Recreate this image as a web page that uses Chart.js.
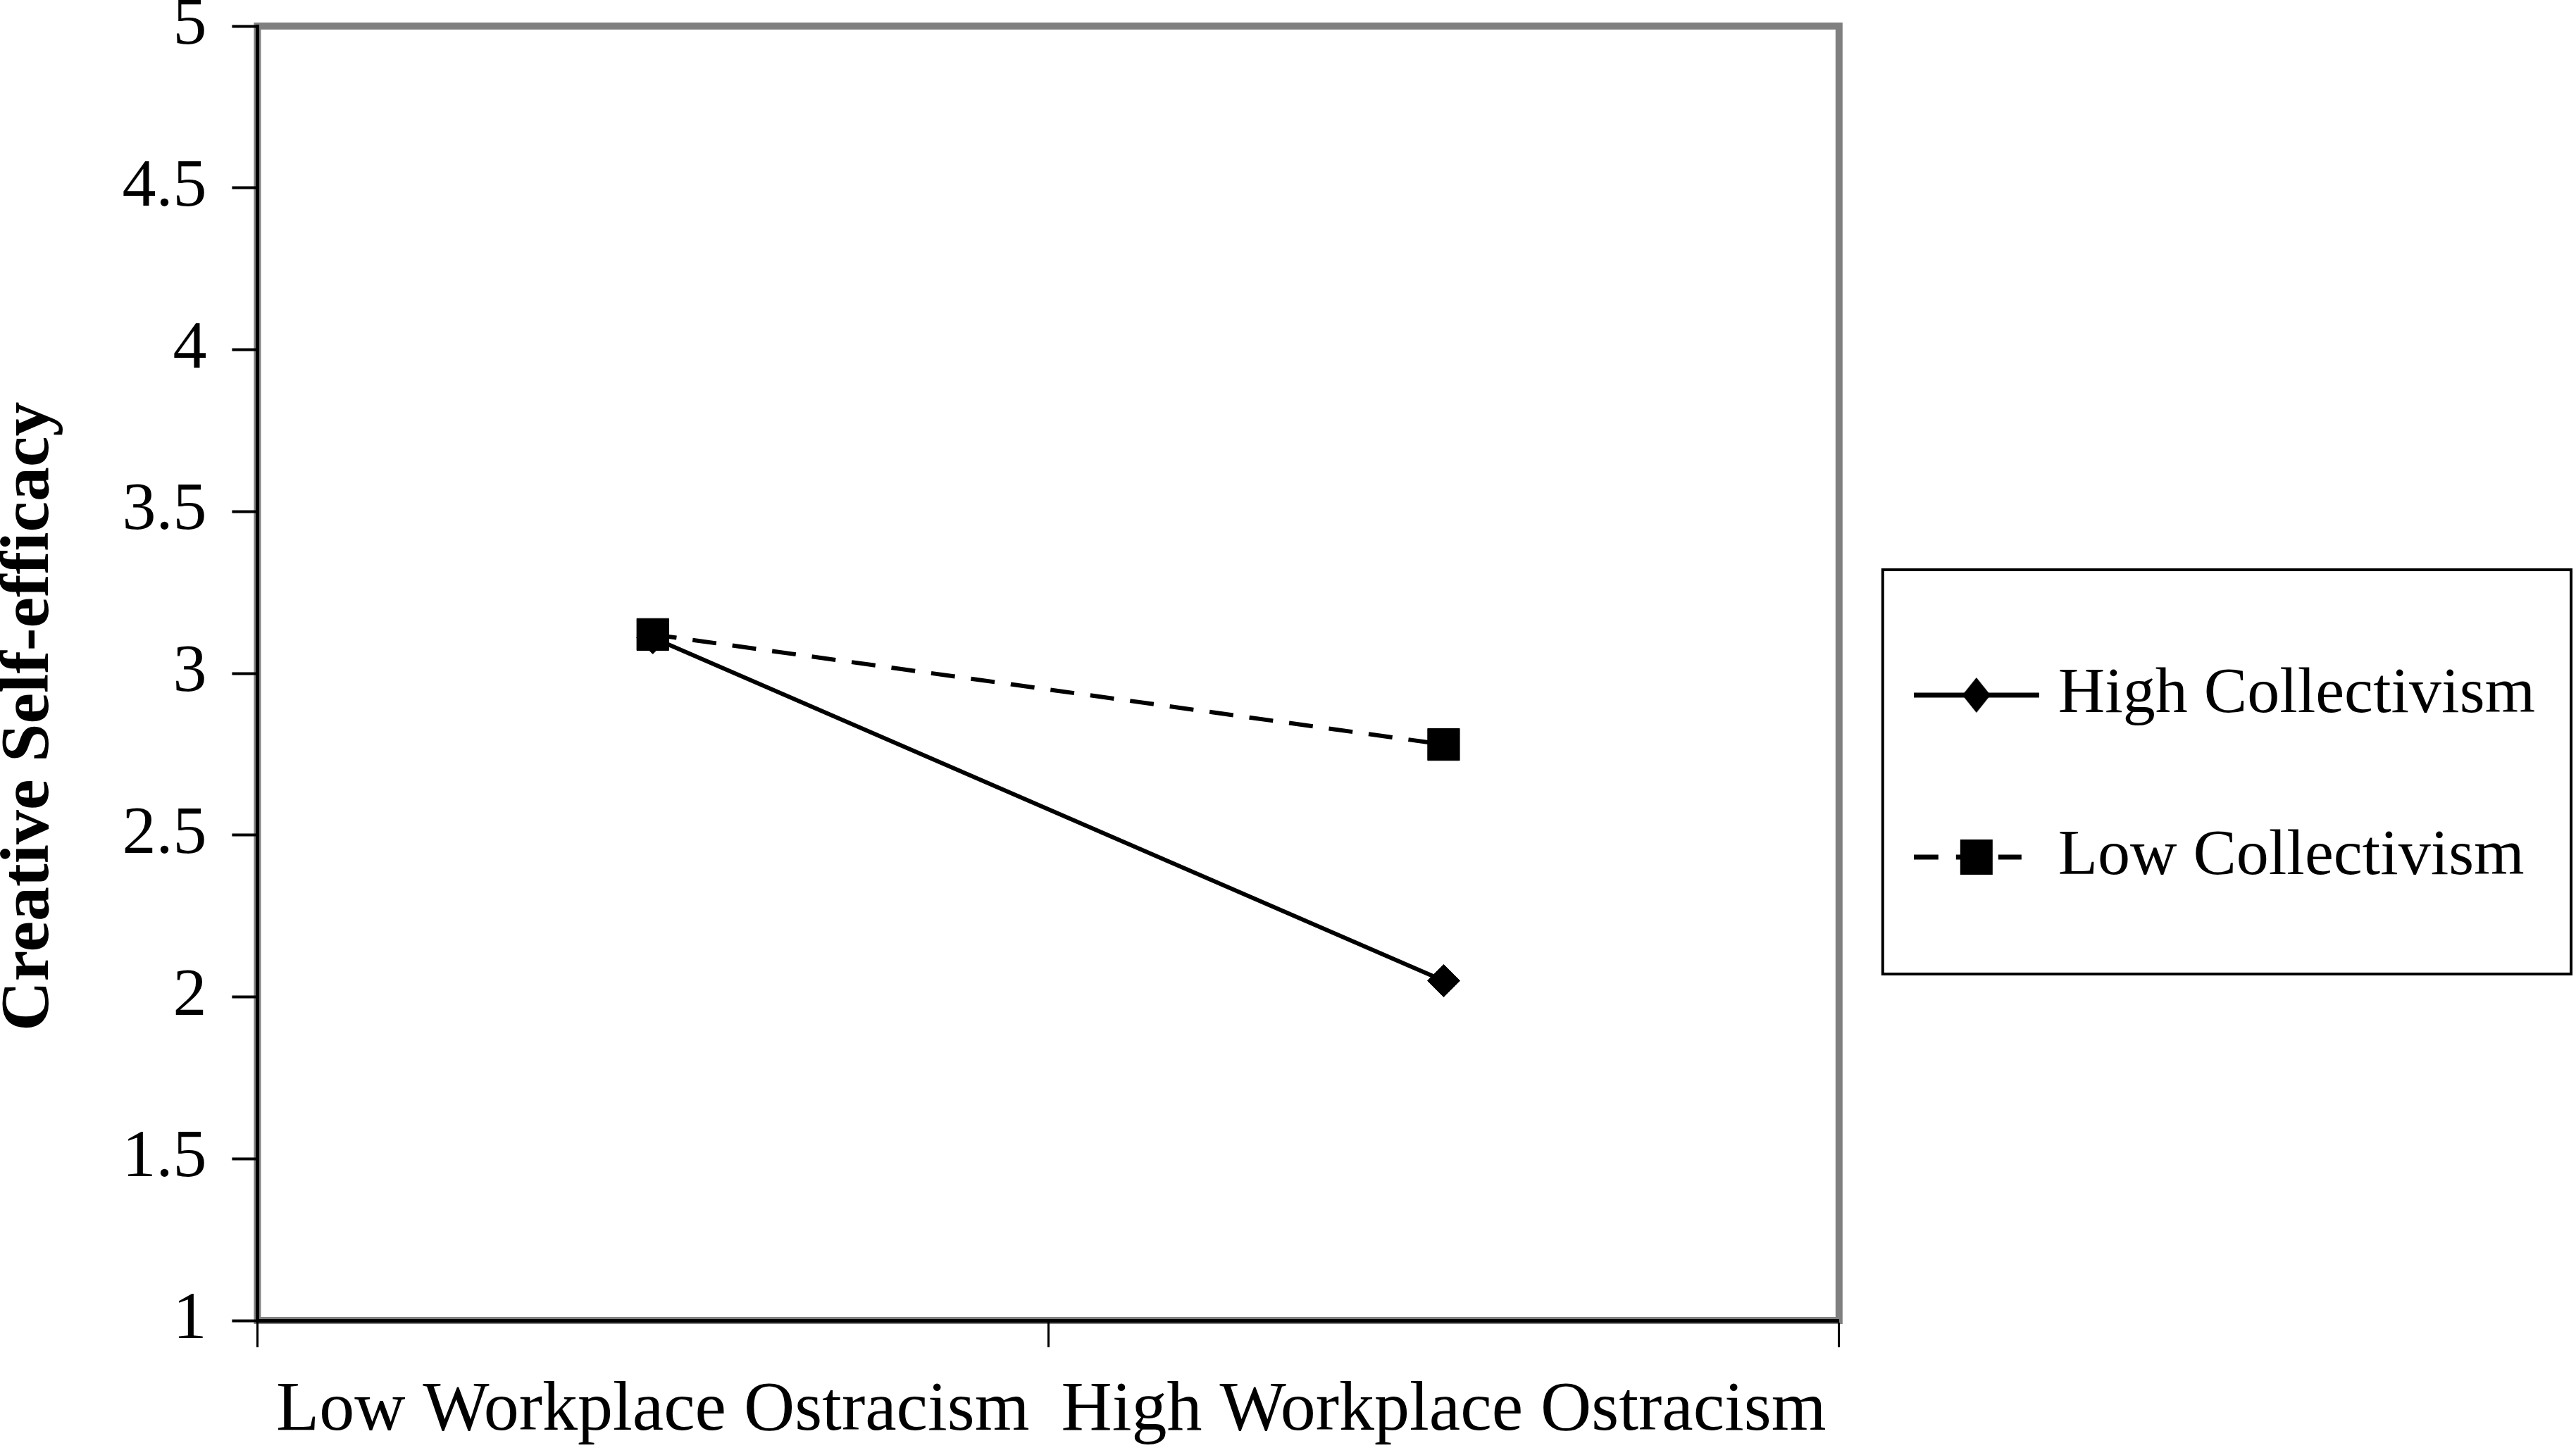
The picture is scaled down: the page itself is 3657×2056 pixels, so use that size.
<!DOCTYPE html>
<html>
<head>
<meta charset="utf-8">
<title>Creative Self-efficacy</title>
<script src="https://cdn.jsdelivr.net/npm/chart.js@4.4.1/dist/chart.umd.min.js"></script>
<style>
  html, body { margin: 0; padding: 0; background: #fff; }
  #chart { display: block; }
</style>
</head>
<body>
<canvas id="chart" width="3657" height="2056"></canvas>
<script>
// data
const categories = ['Low Workplace Ostracism', 'High Workplace Ostracism'];
const seriesNames = ['High Collectivism', 'Low Collectivism'];
const highCollectivism = [3.11, 2.05];
const lowCollectivism  = [3.12, 2.78];
const yMin  = 1;
const yMax  = 5;
const yStep = 0.5;
const yTitle = 'Creative Self-efficacy';

const SERIF = "'Liberation Serif', 'Times New Roman', serif";

// legend swatch: line sample with the marker in the middle
function makeSwatch(kind) {
    const c = document.createElement('canvas');
    c.width = 191;
    c.height = 60;
    const g = c.getContext('2d');
    g.strokeStyle = '#000';
    g.fillStyle = '#000';
    g.lineWidth = 7;
    g.beginPath();
    if (kind === 'solid') {
        g.moveTo(0, 30);
        g.lineTo(178, 30);
        g.stroke();
        g.beginPath();
        g.moveTo(89, 5);
        g.lineTo(109, 30);
        g.lineTo(89, 55);
        g.lineTo(69, 30);
        g.closePath();
        g.fill();
    } else {
        g.setLineDash([35, 25]);
        g.moveTo(0, 30);
        g.lineTo(153, 30);
        g.stroke();
        g.fillRect(66, 5, 46, 50);
    }
    return c;
}

const swatches = [makeSwatch('solid'), makeSwatch('dashed')];

// grey frame round the plot area, under the black axes
const plotFrame = {
    id: 'plotFrame',
    beforeDraw(chart) {
        const { ctx, chartArea: a } = chart;
        ctx.save();
        ctx.strokeStyle = '#808080';
        ctx.lineWidth = 10;
        ctx.strokeRect(a.left, a.top, a.right - a.left, a.bottom - a.top);
        ctx.restore();
    },
};

// black box round the legend entries
const legendBox = {
    id: 'legendBox',
    afterDraw(chart) {
        const boxes = chart.legend && chart.legend.legendHitBoxes;
        if (!boxes || !boxes.length) return;
        const left   = Math.min(...boxes.map((b) => b.left)) - 76;
        const top    = Math.min(...boxes.map((b) => b.top)) - 132;
        const right  = Math.max(...boxes.map((b) => b.left + b.width)) + 51;
        const bottom = Math.max(...boxes.map((b) => b.top + b.height)) + 120;
        const { ctx } = chart;
        ctx.save();
        ctx.strokeStyle = '#000';
        ctx.lineWidth = 4;
        ctx.strokeRect(left, top, right - left, bottom - top);
        ctx.restore();
    },
};

new Chart(document.getElementById('chart'), {
    type: 'line',
    data: {
        labels: categories,
        datasets: [
            {
                label: seriesNames[0],
                data: highCollectivism,
                borderColor: '#000',
                borderWidth: 6,
                pointStyle: 'rectRot',
                pointRadius: 23,
                pointBackgroundColor: '#000',
                pointBorderColor: '#000',
                pointBorderWidth: 1,
                order: 1,
            },
            {
                label: seriesNames[1],
                data: lowCollectivism,
                borderColor: '#000',
                borderWidth: 6,
                borderDash: [34, 23],
                pointStyle: 'rect',
                pointRadius: 32,
                pointBackgroundColor: '#000',
                pointBorderColor: '#000',
                pointBorderWidth: 1,
                order: 0,
            },
        ],
    },
    options: {
        responsive: false,
        animation: false,
        devicePixelRatio: 1,
        layout: { padding: { top: 37, right: 48, bottom: -39, left: 0 } },
        plugins: {
            tooltip: { enabled: false },
            legend: {
                position: 'right',
                align: 'center',
                maxWidth: 1200,
                title: { display: true, text: '', font: { size: 10, lineHeight: 1 }, padding: { top: 62, bottom: 0 } },
                labels: {
                    usePointStyle: true,
                    pointStyleWidth: 127,
                    padding: 138,
                    color: '#000',
                    font: { family: SERIF, size: 92 },
                    generateLabels: (chart) => chart.data.datasets.map((ds, i) => ({
                        text: ds.label,
                        pointStyle: swatches[i],
                        datasetIndex: i,
                        fontColor: '#000',
                        fillStyle: 'transparent',
                        strokeStyle: 'transparent',
                        lineWidth: 0,
                        hidden: false,
                    })),
                },
            },
        },
        scales: {
            x: {
                offset: true,
                grid: { offset: true, drawOnChartArea: false, drawTicks: true, tickLength: 38, tickWidth: 3, color: '#000' },
                border: { display: true, color: '#000', width: 5 },
                ticks: {
                    autoSkip: false,
                    maxRotation: 0,
                    minRotation: 0,
                    padding: 31,
                    color: '#000',
                    font: { family: SERIF, size: 100 },
                },
            },
            y: {
                min: yMin,
                max: yMax,
                grid: { drawOnChartArea: false, drawTicks: true, tickLength: 36, tickWidth: 4, color: '#000' },
                border: { display: true, color: '#000', width: 5 },
                ticks: {
                    stepSize: yStep,
                    padding: 36,
                    color: '#000',
                    font: { family: SERIF, size: 96, lineHeight: '1px' },
                    callback: (v) => String(v),
                },
                title: {
                    display: true,
                    text: yTitle + '     ',
                    color: '#000',
                    font: { family: SERIF, size: 98, weight: 'bold', lineHeight: 0.8 },
                    padding: { top: 3, bottom: 56 },
                },
            },
        },
    },
    plugins: [plotFrame, legendBox],
});
</script>
</body>
</html>
